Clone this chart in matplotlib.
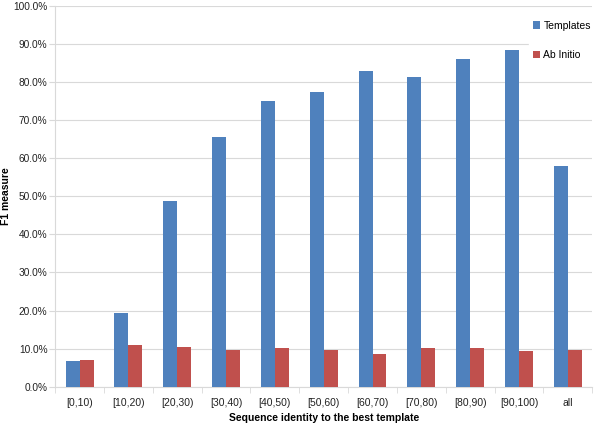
import matplotlib
matplotlib.use('Agg')
import matplotlib.pyplot as plt
import numpy as np
from matplotlib.ticker import FuncFormatter, FixedLocator

plt.rcParams['font.family'] = ['Liberation Sans', 'DejaVu Sans']

categories = ['[0,10)', '[10,20)', '[20,30)', '[30,40)', '[40,50)', '[50,60)',
              '[60,70)', '[70,80)', '[80,90)', '[90,100)', 'all']
templates = [6.8, 19.3, 48.6, 65.5, 74.9, 77.4, 82.7, 81.3, 86.0, 88.4, 57.8]
ab_initio = [7.0, 10.9, 10.4, 9.7, 10.2, 9.6, 8.5, 10.2, 10.2, 9.3, 9.6]

blue = '#4F81BD'
red = '#C0504D'
grid_c = '#D9D9D9'

fig = plt.figure(figsize=(6, 4.25), dpi=100)
ax = fig.add_axes([0.092, 0.090, 0.895, 0.897])

x = np.arange(len(categories))
w = 0.286
ax.bar(x - w / 2, templates, w, color=blue, label='Templates', zorder=3)
ax.bar(x + w / 2, ab_initio, w, color=red, label='Ab Initio', zorder=3)

ax.set_xlim(-0.5, len(categories) - 0.5)
ax.set_ylim(0, 100)
ax.set_yticks(np.arange(0, 101, 10))
ax.yaxis.set_major_formatter(FuncFormatter(lambda v, p: f'{v:.1f}%'))
ax.set_xticks(x)
ax.set_xticklabels(categories)
ax.xaxis.set_minor_locator(FixedLocator(np.arange(-0.5, len(categories), 1)))
ax.tick_params(axis='x', which='major', length=0, pad=8, labelsize=7.5, colors='#222222')
ax.tick_params(axis='x', which='minor', length=4, color=grid_c, direction='out')
ax.tick_params(axis='y', length=4, color=grid_c, labelsize=7.3, colors='#222222', pad=1.5)

ax.grid(axis='y', color=grid_c, linewidth=0.8, zorder=0)
ax.set_axisbelow(True)
for s in ['top', 'right']:
    ax.spines[s].set_visible(False)
for s in ['left', 'bottom']:
    ax.spines[s].set_color(grid_c)

ax.set_ylabel('F1 measure', fontsize=7.5, fontweight='bold')
ax.yaxis.set_label_coords(-0.083, 0.5)
ax.set_xlabel('Sequence identity to the best template', fontsize=7.5, fontweight='bold', labelpad=4)

leg = ax.legend(loc='upper right', bbox_to_anchor=(1.015, 0.985), frameon=True, fontsize=7.5,
                handlelength=0.7, handleheight=0.7, handletextpad=0.3, labelspacing=1.9,
                borderpad=0.4, fancybox=False)
leg.get_frame().set_edgecolor('white')
leg.get_frame().set_facecolor('white')
leg.get_frame().set_alpha(1)

plt.savefig('out.png', dpi=100)
